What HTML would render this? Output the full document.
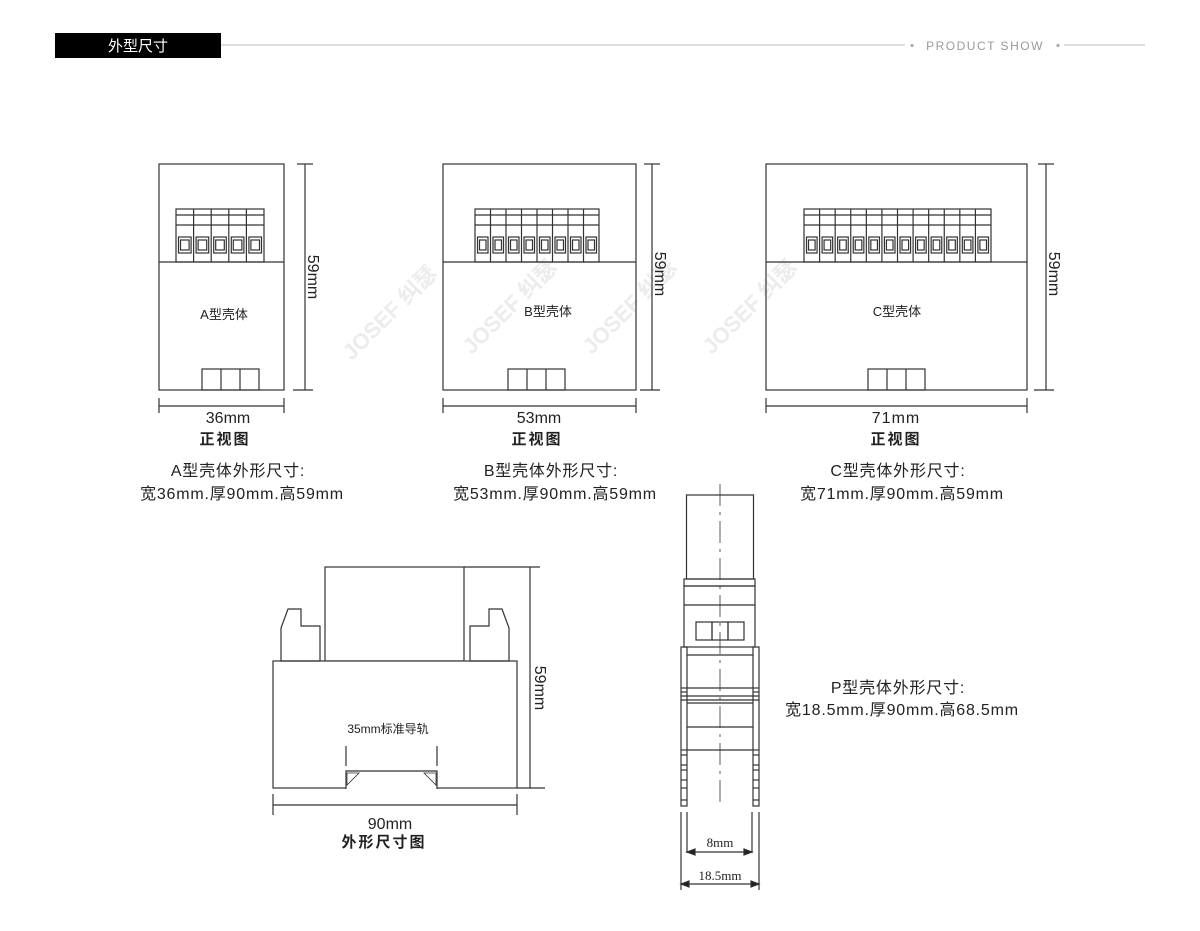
<!DOCTYPE html>
<html><head><meta charset="utf-8"><style>
body{margin:0;background:#fff;width:1200px;height:931px;overflow:hidden}
svg{display:block}
text{font-family:"Liberation Sans","Noto Sans CJK SC",sans-serif;fill:#222}
</style></head><body>
<svg id="s" width="1200" height="931" viewBox="0 0 1200 931" xmlns="http://www.w3.org/2000/svg">
<rect x="55" y="33" width="166" height="25" fill="#000"/>
<text x="138" y="51" font-size="15" text-anchor="middle" style="fill:#fff">外型尺寸</text>
<line x1="221" y1="45" x2="905" y2="45" stroke="#bbb" stroke-width="1"/>
<circle cx="912" cy="45.5" r="1.6" fill="#aaa"/>
<text x="985" y="50" font-size="12" text-anchor="middle" letter-spacing="1.5" style="fill:#999">PRODUCT SHOW</text>
<circle cx="1058" cy="45.5" r="1.6" fill="#aaa"/>
<line x1="1064" y1="45" x2="1145" y2="45" stroke="#bbb" stroke-width="1"/>

<g font-size="22" font-weight="bold" text-anchor="middle">
<text transform="translate(395,318) rotate(-45)" style="fill:#ececec">JOSEF 纠瑟</text>
<text transform="translate(515,312) rotate(-45)" style="fill:#ececec">JOSEF 纠瑟</text>
<text transform="translate(635,312) rotate(-45)" style="fill:#ececec">JOSEF 纠瑟</text>
<text transform="translate(755,312) rotate(-45)" style="fill:#ececec">JOSEF 纠瑟</text>
</g>

<g id="g" fill="none" stroke="#333" stroke-width="1.2"></g>

<g font-size="16" text-anchor="middle">
<text x="228" y="423">36mm</text>
<text x="225" y="444" font-size="15" font-weight="bold" letter-spacing="2">正视图</text>
<text x="539" y="423">53mm</text>
<text x="537" y="444" font-size="15" font-weight="bold" letter-spacing="2">正视图</text>
<text x="896" y="423" letter-spacing="1">71mm</text>
<text x="896" y="444" font-size="15" font-weight="bold" letter-spacing="2">正视图</text>
<g font-size="16" letter-spacing="0.8">
<text x="238" y="476">A型壳体外形尺寸:</text>
<text x="242" y="499">宽36mm.厚90mm.高59mm</text>
<text x="551" y="476">B型壳体外形尺寸:</text>
<text x="555" y="499">宽53mm.厚90mm.高59mm</text>
<text x="898" y="476">C型壳体外形尺寸:</text>
<text x="902" y="499">宽71mm.厚90mm.高59mm</text>
<text x="898" y="693">P型壳体外形尺寸:</text>
<text x="902" y="715">宽18.5mm.厚90mm.高68.5mm</text>
</g>
<text x="224" y="319" font-size="13">A型壳体</text>
<text x="548" y="316" font-size="13">B型壳体</text>
<text x="897" y="316" font-size="13">C型壳体</text>
<text x="388" y="733" font-size="12">35mm标准导轨</text>
<text x="390" y="829">90mm</text>
<text x="384" y="847" font-size="15" font-weight="bold" letter-spacing="2">外形尺寸图</text>
<text x="720" y="847" font-size="13" style="font-family:'Liberation Serif','Noto Serif CJK SC',serif">8mm</text>
<text x="720" y="880" font-size="13" style="font-family:'Liberation Serif','Noto Serif CJK SC',serif">18.5mm</text>
<text transform="translate(308,277) rotate(90)" font-size="16">59mm</text>
<text transform="translate(655,274) rotate(90)" font-size="16">59mm</text>
<text transform="translate(1049,274) rotate(90)" font-size="16">59mm</text>
<text transform="translate(535,688) rotate(90)" font-size="16">59mm</text>
</g>
</svg>
<script>
var g=document.getElementById('g'),h='';
function L(a,b,c,d,ex){h+='<line x1="'+a+'" y1="'+b+'" x2="'+c+'" y2="'+d+'"'+(ex||'')+'/>';}
function R(x,y,w,hh,ex){h+='<rect x="'+x+'" y="'+y+'" width="'+w+'" height="'+hh+'"'+(ex||'')+'/>';}
function box(x1,x2,n,tx1,tx2,cx,vx){
 R(x1,164,x2-x1,226);L(x1,262,x2,262);
 var w=(tx2-tx1)/n;R(tx1,209,tx2-tx1,53);L(tx1,215,tx2,215);L(tx1,225,tx2,225);
 for(var i=0;i<n;i++){var a=tx1+i*w;if(i>0)L(a,209,a,262);R(a+2.5,237,w-5,16);R(a+4.5,240,w-9,10);}
 R(cx,369,57,21);L(cx+19,369,cx+19,390);L(cx+38,369,cx+38,390);
 L(vx,164,vx,390);L(vx-8,164,vx+8,164);L(vx-12,390,vx+8,390);
 L(x1,398,x1,413);L(x2,398,x2,413);L(x1,406,x2,406);
}
box(159,284,5,176,264,202,305);
box(443,636,8,475,599,508,652);
box(766,1027,12,804,991,868,1046);
R(325,567,139,94);R(273,661,244,127,' fill="#fff"');
h+='<path d="M281 661 V628 L288 609 H301 V626 H320 V661 Z"/>';
h+='<path d="M509 661 V628 L502 609 H489 V626 H470 V661 Z"/>';
h+='<path d="M346 789 V771 H437 V789" stroke="#333" fill="#fff"/>';
h+='<path d="M347 773 L359 773 L347 785 Z M436 773 L424 773 L436 785 Z" stroke-width="0.8"/>';
L(346,746,346,766);L(437,746,437,766);
L(530,567,530,788);L(464,567,540,567);L(517,788,545,788);
L(273,794,273,815);L(517,794,517,815);L(273,805,517,805);
R(686.5,495,67,84);R(684,579,71,7);R(684,586,71,61);L(684,605,755,605);
R(696,622,16,18);R(712,622,16,18);R(728,622,16,18);
R(681,647,6,159);R(753,647,6,159);
[655,688,703,727,750].forEach(function(y){L(687,y,753,y);});
[696,700].forEach(function(y){L(681,y,759,y);});
[688,692,750,755,765,770,780,788,800].forEach(function(y){L(681,y,687,y);L(753,y,759,y);});
L(720,484,720,808,' stroke-dasharray="22 6 3 6" stroke-width="0.8"');
L(687,812,687,853);L(752,812,752,853);L(681,812,681,890);L(759,812,759,890);
L(687,852,752,852);L(681,884,759,884);
h+='<path d="M687 852 l8 -3 v6 Z M752 852 l-8 -3 v6 Z M681 884 l8 -3 v6 Z M759 884 l-8 -3 v6 Z" fill="#222"/>';
g.innerHTML=h;
</script>
</body></html>
